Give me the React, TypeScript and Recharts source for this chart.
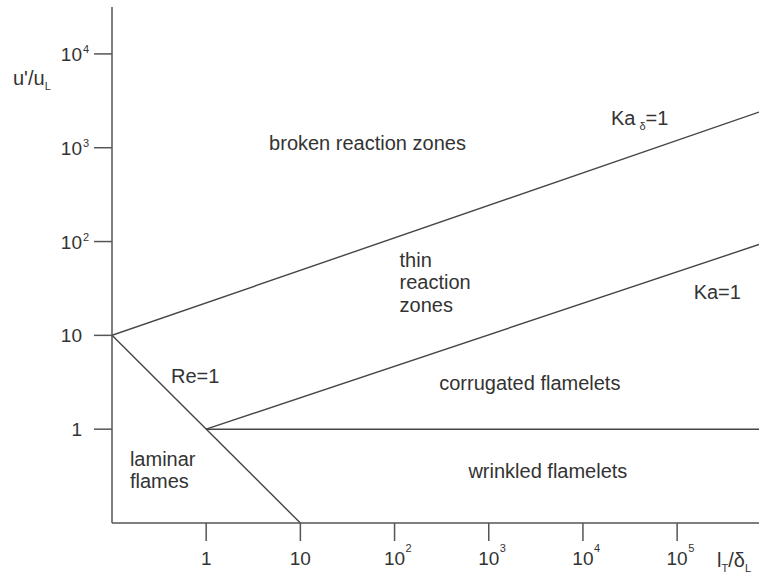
import React from 'react';
import { ComposedChart, Line, Scatter, XAxis, YAxis } from 'recharts';

// regime boundaries (l_T/δ_L, u'/u_L)
const kaDeltaLine = [
  { x: 0.1, y: 10 },
  { x: 7.4e5, y: 2400 },
];
const kaLine = [
  { x: 1, y: 1 },
  { x: 7.4e5, y: 93 },
];
const unityLine = [
  { x: 1, y: 1 },
  { x: 7.4e5, y: 1 },
];
const reLine = [
  { x: 0.1, y: 10 },
  { x: 10, y: 0.1 },
];

const xTickValues = [1, 10, 1e2, 1e3, 1e4, 1e5];
const xTickBase = ['1', '10', '10', '10', '10', '10'];
const xTickPower = ['', '', '2', '3', '4', '5'];

const yTickValues = [1, 10, 1e2, 1e3, 1e4];
const yTickBase = ['1', '10', '10', '10', '10'];
const yTickPower = ['', '', '2', '3', '4'];

// regime names, placed in data coordinates
const notes = [
  { x: 51.6, y: 1130, lines: ['broken reaction zones'], anchor: 'middle' },
  { x: 113, y: 36.6, lines: ['thin', 'reaction', 'zones'], anchor: 'start' },
  { x: 2.67e5, y: 28.7, lines: ['Ka=1'], anchor: 'middle' },
  { x: 2730, y: 3.08, lines: ['corrugated flamelets'], anchor: 'middle' },
  { x: 0.764, y: 3.66, lines: ['Re=1'], anchor: 'middle' },
  { x: 0.155, y: 0.366, lines: ['laminar', 'flames'], anchor: 'start' },
  { x: 4245, y: 0.357, lines: ['wrinkled flamelets'], anchor: 'middle' },
  { x: 19860, y: 2085, lines: ['Ka', 'δ', '=1'], anchor: 'start', sub: true },
];

const FONT = '"Liberation Sans", Arial, sans-serif';
const INK = '#333';
const LINE = '#454545';

function XTick({ x, y, payload }: any) {
  const i = xTickValues.indexOf(payload.value);
  if (i < 0) return null;
  return (
    <g fontFamily={FONT} fill={INK}>
      <text x={x} y={y + 22} textAnchor="middle" fontSize={19}>{xTickBase[i]}</text>
      {xTickPower[i] && (
        <text x={x + 11} y={y + 9} fontSize={11}>{xTickPower[i]}</text>
      )}
    </g>
  );
}

function YTick({ x, y, payload }: any) {
  const i = yTickValues.indexOf(payload.value);
  if (i < 0) return null;
  return (
    <g fontFamily={FONT} fill={INK}>
      <text x={x} y={y + 7} textAnchor="end" fontSize={19}>{yTickBase[i]}</text>
      {yTickPower[i] && (
        <text x={x + 1} y={y - 1} fontSize={11}>{yTickPower[i]}</text>
      )}
    </g>
  );
}

function NoteShape({ cx, cy, payload }: any) {
  if (payload.sub) {
    return (
      <text x={cx} y={cy + 7} fontFamily={FONT} fontSize={20} fill={INK}>
        {payload.lines[0]}
        <tspan dx={4} dy={5} fontSize={11}>{payload.lines[1]}</tspan>
        <tspan dy={-5} fontSize={20}>{payload.lines[2]}</tspan>
      </text>
    );
  }
  const gap = 22.5;
  const top = cy - ((payload.lines.length - 1) * gap) / 2;
  return (
    <text textAnchor={payload.anchor} fontFamily={FONT} fontSize={20} fill={INK}>
      {payload.lines.map((t: string, k: number) => (
        <tspan key={k} x={cx} y={top + k * gap + 7}>{t}</tspan>
      ))}
    </text>
  );
}

export default function App() {
  const axisStyle = { stroke: '#555', strokeWidth: 1.5 };
  return (
    <div style={{ position: 'absolute', left: 0, top: 0 }}>
      <ComposedChart width={759} height={581} margin={{ top: 7, right: 0, bottom: 0, left: 0 }}>
        <XAxis
          type="number"
          dataKey="x"
          scale="log"
          domain={[0.1, 7.4e5]}
          allowDataOverflow
          ticks={xTickValues}
          interval={0}
          height={58}
          tickSize={18}
          tickMargin={2}
          axisLine={axisStyle}
          tickLine={axisStyle}
          tick={<XTick />}
        />
        <YAxis
          type="number"
          dataKey="y"
          scale="log"
          domain={[0.1, Math.pow(10, 4.5)]}
          allowDataOverflow
          ticks={yTickValues}
          interval={0}
          width={112}
          tickSize={18}
          tickMargin={12}
          axisLine={axisStyle}
          tickLine={axisStyle}
          tick={<YTick />}
        />
        <Line data={kaDeltaLine} dataKey="y" type="linear" stroke={LINE} strokeWidth={1.4} dot={false} isAnimationActive={false} />
        <Line data={kaLine} dataKey="y" type="linear" stroke={LINE} strokeWidth={1.4} dot={false} isAnimationActive={false} />
        <Line data={unityLine} dataKey="y" type="linear" stroke={LINE} strokeWidth={1.4} dot={false} isAnimationActive={false} />
        <Line data={reLine} dataKey="y" type="linear" stroke={LINE} strokeWidth={1.4} dot={false} isAnimationActive={false} />
        <Scatter data={notes} dataKey="y" shape={(p: any) => <NoteShape {...p} />} isAnimationActive={false} />
        <text x={13} y={85} fontFamily={FONT} fontSize={20} fill={INK}>
          u'/u<tspan dy={5} fontSize={11}>L</tspan>
        </text>
        <text x={717} y={567} fontFamily={FONT} fontSize={20} fill={INK}>
          l<tspan dy={5} fontSize={11}>T</tspan>
          <tspan dy={-5}>/δ</tspan>
          <tspan dy={5} fontSize={11}>L</tspan>
        </text>
      </ComposedChart>
    </div>
  );
}
